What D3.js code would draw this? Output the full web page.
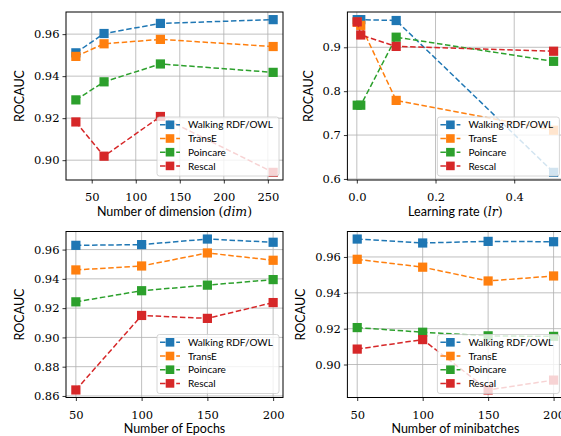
<!DOCTYPE html>
<html>
<head>
<meta charset="utf-8">
<script src="https://cdn.jsdelivr.net/npm/d3@7"></script>
<style>
  html, body { margin: 0; padding: 0; background: #fff; }
  svg { display: block; }
</style>
</head>
<body>
<svg id="chart" width="561" height="436"></svg>
<script>
// ---------- data ----------
const seriesNames = ["Walking RDF/OWL", "TransE", "Poincare", "Rescal"];

const dimX = [32, 64, 128, 256];
const dimWalking = [0.9511, 0.9603, 0.9651, 0.9669];
const dimTransE = [0.9494, 0.9554, 0.9575, 0.9541];
const dimPoincare = [0.9287, 0.9373, 0.9458, 0.9418];
const dimRescal = [0.9182, 0.9019, 0.9208, 0.8942];
const dimXTicks = [50, 100, 150, 200, 250];
const dimYTicks = [0.90, 0.92, 0.94, 0.96];

const lrX = [0.001, 0.01, 0.1, 0.5];
const lrWalking = [0.963, 0.963, 0.961, 0.615];
const lrTransE = [0.957, 0.950, 0.779, 0.711];
const lrPoincare = [0.768, 0.768, 0.923, 0.868];
const lrRescal = [0.958, 0.928, 0.902, 0.891];
const lrXTicks = [0.0, 0.2, 0.4];
const lrYTicks = [0.6, 0.7, 0.8, 0.9];

const epochX = [50, 100, 150, 200];
const epochWalking = [0.9629, 0.9634, 0.9672, 0.9650];
const epochTransE = [0.9461, 0.9488, 0.9577, 0.9527];
const epochPoincare = [0.9243, 0.9319, 0.9357, 0.9395];
const epochRescal = [0.8641, 0.9150, 0.9130, 0.9238];
const epochXTicks = [50, 100, 150, 200];
const epochYTicks = [0.86, 0.88, 0.90, 0.92, 0.94, 0.96];

const mbX = [50, 100, 150, 200];
const mbWalking = [0.9700, 0.9678, 0.9687, 0.9685];
const mbTransE = [0.9587, 0.9543, 0.9466, 0.9494];
const mbPoincare = [0.9206, 0.9180, 0.9160, 0.9157];
const mbRescal = [0.9086, 0.9139, 0.8858, 0.8913];
const mbXTicks = [50, 100, 150, 200];
const mbYTicks = [0.90, 0.92, 0.94, 0.96];

// ---------- styles ----------
const colors = ["#1f77b4", "#ff7f0e", "#2ca02c", "#d62728"];
const serif = "'DejaVu Serif', serif";
const sans = "Lato, 'DejaVu Sans', sans-serif";

const svg = d3.select("#chart");

const panels = [
  { x: dimX, ys: [dimWalking, dimTransE, dimPoincare, dimRescal], xt: dimXTicks, yt: dimYTicks,
    xf: d3.format("d"), yf: d3.format(".2f"),
    rect: { l: 66, t: 12, w: 217, h: 168 }, label: ["Number of dimension ", "dim"], ylOff: 47 },
  { x: lrX, ys: [lrWalking, lrTransE, lrPoincare, lrRescal], xt: lrXTicks, yt: lrYTicks,
    xf: d3.format(".1f"), yf: d3.format(".1f"),
    rect: { l: 347.4, t: 12, w: 216, h: 168 }, label: ["Learning rate ", "lr"], ylOff: 39 },
  { x: epochX, ys: [epochWalking, epochTransE, epochPoincare, epochRescal], xt: epochXTicks, yt: epochYTicks,
    xf: d3.format("d"), yf: d3.format(".2f"),
    rect: { l: 66, t: 231.5, w: 217, h: 166 }, label: ["Number of Epochs", null], ylOff: 47 },
  { x: mbX, ys: [mbWalking, mbTransE, mbPoincare, mbRescal], xt: mbXTicks, yt: mbYTicks,
    xf: d3.format("d"), yf: d3.format(".2f"),
    rect: { l: 347.4, t: 231.5, w: 216, h: 166 }, label: ["Number of minibatches", null], ylOff: 47 }
];

function padded(ext) {
  const d = (ext[1] - ext[0]) * 0.05;
  return [ext[0] - d, ext[1] + d];
}

const defs = svg.append("defs");

panels.forEach((p, pi) => {
  const r = p.rect;
  const allY = p.ys.flat();
  const x = d3.scaleLinear().domain(padded(d3.extent(p.x))).range([r.l, r.l + r.w]);
  const y = d3.scaleLinear().domain(padded(d3.extent(allY))).range([r.t + r.h, r.t]);

  defs.append("clipPath").attr("id", "clip" + pi)
    .append("rect").attr("x", r.l).attr("y", r.t).attr("width", r.w).attr("height", r.h);

  const g = svg.append("g");

  // grid
  const grid = g.append("g").attr("clip-path", `url(#clip${pi})`);
  grid.selectAll("line.gx").data(p.xt).join("line")
    .attr("x1", d => x(d)).attr("x2", d => x(d))
    .attr("y1", r.t).attr("y2", r.t + r.h)
    .attr("stroke", "#b0b0b0").attr("stroke-width", 0.8);
  grid.selectAll("line.gy").data(p.yt).join("line")
    .attr("y1", d => y(d)).attr("y2", d => y(d))
    .attr("x1", r.l).attr("x2", r.l + r.w)
    .attr("stroke", "#b0b0b0").attr("stroke-width", 0.8);

  // series
  const plot = g.append("g").attr("clip-path", `url(#clip${pi})`);
  const line = d3.line().x(d => x(d[0])).y(d => y(d[1]));
  p.ys.forEach((vals, si) => {
    const pts = p.x.map((xv, i) => [xv, vals[i]]);
    plot.append("path").datum(pts).attr("d", line)
      .attr("fill", "none").attr("stroke", colors[si]).attr("stroke-width", 1.5)
      .attr("stroke-dasharray", "5.5,2.6");
    plot.selectAll(null).data(pts).join("rect")
      .attr("x", d => x(d[0]) - 4.6).attr("y", d => y(d[1]) - 4.6)
      .attr("width", 9.2).attr("height", 9.2)
      .attr("fill", colors[si]);
  });

  // axes
  const xAxis = d3.axisBottom(x).tickValues(p.xt).tickFormat(p.xf).tickSize(3.5).tickPadding(7);
  const yAxis = d3.axisLeft(y).tickValues(p.yt).tickFormat(p.yf).tickSize(3.5).tickPadding(3);
  const gx = g.append("g").attr("transform", `translate(0,${r.t + r.h})`).call(xAxis);
  const gy = g.append("g").attr("transform", `translate(${r.l},0)`).call(yAxis);
  [gx, gy].forEach(a => {
    a.select(".domain").remove();
    a.selectAll(".tick line").attr("stroke", "#000").attr("stroke-width", 0.8);
    a.selectAll(".tick text").attr("font-family", serif).attr("font-size", 11.5).attr("fill", "#000");
  });
  gx.selectAll(".tick text").attr("dy", "0.95em");

  // legend
  const lw = 122, lh = 59;
  const lx = r.l + Math.min(r.w, 561 - r.l + 4) - 4 - lw;
  const legX = Math.min(lx, r.l + r.w - 4 - lw);
  const ly = r.t + r.h - 4 - lh;
  const leg = g.append("g").attr("transform", `translate(${legX},${ly})`);
  leg.append("rect").attr("width", lw).attr("height", lh).attr("rx", 2.5)
    .attr("fill", "#fff").attr("fill-opacity", 0.8)
    .attr("stroke", "#cccccc").attr("stroke-width", 0.8);
  seriesNames.forEach((name, si) => {
    const yy = 7.8 + si * 13.7;
    leg.append("line").attr("x1", 3).attr("x2", 23).attr("y1", yy).attr("y2", yy)
      .attr("stroke", colors[si]).attr("stroke-width", 1.5).attr("stroke-dasharray", "5.5,2.6");
    leg.append("rect").attr("x", 13 - 4.3).attr("y", yy - 4.3).attr("width", 8.6).attr("height", 8.6)
      .attr("fill", colors[si]);
    leg.append("text").attr("x", 31).attr("y", yy).attr("dy", "0.36em")
      .attr("font-family", sans).attr("font-size", 10).attr("fill", "#000").text(name);
  });

  // spines
  g.append("rect").attr("x", r.l).attr("y", r.t).attr("width", r.w).attr("height", r.h)
    .attr("fill", "none").attr("stroke", "#000").attr("stroke-width", 1);

  // x label
  const xl = g.append("text").attr("x", r.l + r.w / 2).attr("y", r.t + r.h + 35.5)
    .attr("text-anchor", "middle").attr("font-family", sans).attr("font-size", 12.5).attr("fill", "#000");
  xl.append("tspan").text(p.label[0]);
  if (p.label[1]) {
    xl.append("tspan").attr("font-family", serif).text("(");
    xl.append("tspan").attr("font-family", serif).attr("font-style", "italic").text(p.label[1]);
    xl.append("tspan").attr("font-family", serif).text(")");
  }

  // y label
  const cy = r.t + r.h / 2;
  g.append("text").attr("transform", `translate(${r.l - p.ylOff + 4.5},${cy}) rotate(-90)`)
    .attr("text-anchor", "middle").attr("font-family", sans).attr("font-size", 12.5).attr("fill", "#000")
    .text("ROCAUC");
});
</script>
</body>
</html>
